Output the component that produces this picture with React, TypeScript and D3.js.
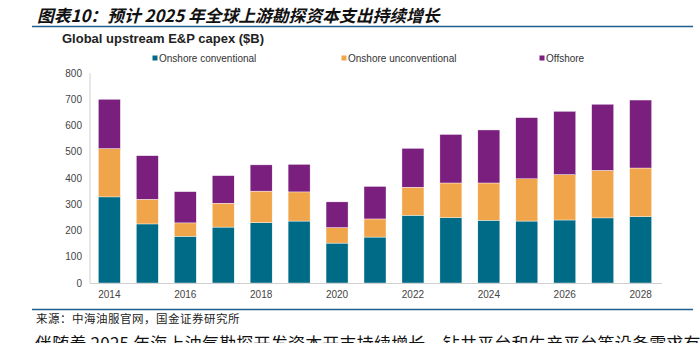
import React from "react";
import * as d3 from "d3";

const years = [2014, 2015, 2016, 2017, 2018, 2019, 2020, 2021, 2022, 2023, 2024, 2025, 2026, 2027, 2028];
const onshoreConventional = [328, 225, 178, 213, 230, 236, 152, 175, 258, 249, 239, 236, 240, 248, 253];
const onshoreUnconventional = [184, 94, 51, 91, 120, 111, 59, 69, 107, 132, 142, 161, 173, 181, 185];
const offshore = [188, 166, 119, 105, 100, 105, 98, 124, 148, 185, 202, 233, 241, 252, 259];
const seriesNames = ["Onshore conventional", "Onshore unconventional", "Offshore"];
const seriesColors = ["#006b86", "#f0a54a", "#7a1f7e"];
const yTicks = [0, 100, 200, 300, 400, 500, 600, 700, 800];
const xTickLabels = [2014, 2016, 2018, 2020, 2022, 2024, 2026, 2028];

const titleText = "图表10：预计 2025 年全球上游勘探资本支出持续增长";
const chartTitle = "Global upstream E&P capex ($B)";
const sourceText = "来源：中海油服官网，国金证券研究所";
const bodyText = "伴随着 2025 年海上油气勘探开发资本开支持续增长，钻井平台和生产平台等设备需求有";

export default function App() {
  const W = 700, H = 343;
  const x = d3.scaleBand<number>().domain(years).range([90, 660]).paddingInner(0.42).paddingOuter(0.22);
  const y = d3.scaleLinear().domain([0, 800]).range([283, 73]);
  const table = years.map((yr, i) => ({
    year: yr,
    a: onshoreConventional[i],
    b: onshoreUnconventional[i],
    c: offshore[i],
  }));
  const stack = d3.stack<any>().keys(["a", "b", "c"])(table);
  const font = "'Liberation Sans', Arial, sans-serif";
  const cjk = "'Noto Sans CJK SC', sans-serif";
  const legendX = [155, 344, 542];

  return (
    <svg width={W} height={H} style={{ position: "absolute", left: 0, top: 0, background: "#fff" }}>
      <text x={37} y={22} fontFamily={cjk} fontSize={16.8} fontStyle="italic" fontWeight={700} fill="#111">
        {titleText}
      </text>
      <line x1={32} x2={693} y1={26.5} y2={26.5} stroke="#1f5d8c" strokeWidth={1.5} />
      <text x={62} y={43} fontFamily={font} fontSize={13} fontWeight={700} fill="#222">
        {chartTitle}
      </text>
      {seriesNames.map((n, i) => (
        <g key={n}>
          <rect x={legendX[i] - 2.5} y={55.5} width={5} height={5} fill={seriesColors[i]} />
          <text x={legendX[i] + 4} y={61.5} fontFamily={font} fontSize={10} fill="#333">
            {n}
          </text>
        </g>
      ))}
      <line x1={90} x2={90} y1={73} y2={283} stroke="#d0d0d0" strokeWidth={1} />
      {yTicks.map((t) => (
        <text key={t} x={82} y={y(t) + 3.5} textAnchor="end" fontFamily={font} fontSize={10} fill="#444">
          {t}
        </text>
      ))}
      {stack.map((s, si) => (
        <g key={si} fill={seriesColors[si]}>
          {s.map((d: any, i: number) => (
            <rect
              key={i}
              x={x(years[i])}
              y={y(d[1])}
              width={x.bandwidth()}
              height={y(d[0]) - y(d[1])}
              stroke="#ffffff"
              strokeWidth={0.4}
            />
          ))}
        </g>
      ))}
      <line x1={90} x2={662} y1={283.5} y2={283.5} stroke="#d0d0d0" strokeWidth={1} />
      {xTickLabels.map((t) => (
        <text key={t} x={(x(t) as number) + x.bandwidth() / 2} y={298} textAnchor="middle" fontFamily={font} fontSize={10} fill="#444">
          {t}
        </text>
      ))}
      <line x1={32} x2={693} y1={309.5} y2={309.5} stroke="#1f5d8c" strokeWidth={1.5} />
      <text x={36} y={323} fontFamily={cjk} fontSize={11.5} fill="#222" letterSpacing={0.5}>
        {sourceText}
      </text>
      <text x={35} y={350} fontFamily={cjk} fontSize={17} fill="#111" letterSpacing={0.2}>
        {bodyText}
      </text>
    </svg>
  );
}
